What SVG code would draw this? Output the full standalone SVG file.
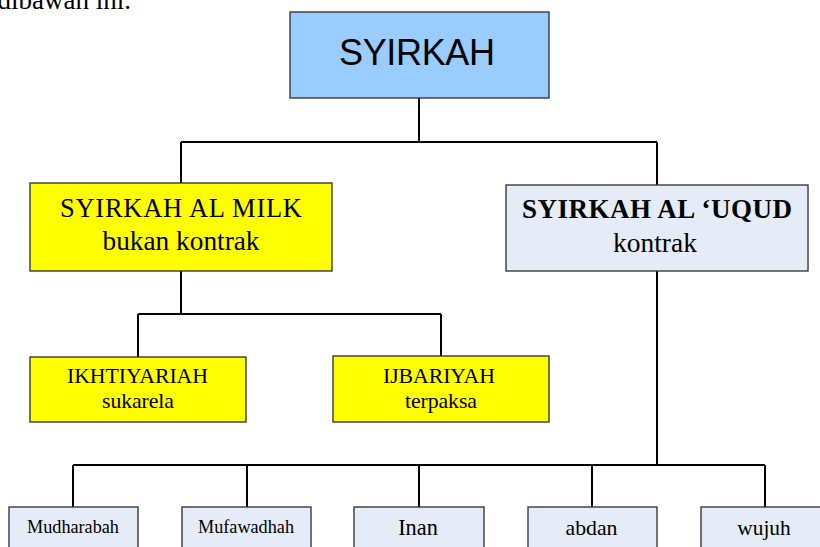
<svg xmlns="http://www.w3.org/2000/svg" width="820" height="547" viewBox="0 0 820 547">
  <style>
    .box { stroke: #3a3a3a; stroke-width: 1.4; }
    .root { fill: #99CCFF; }
    .yellow { fill: #FFFF00; }
    .pale { fill: #E6ECF7; }
    .serif { font-family: "Liberation Serif", "Times New Roman", serif; fill: #000; text-anchor: middle; }
    .sans { font-family: "Liberation Sans", Arial, sans-serif; fill: #000; text-anchor: middle; }
    .wire { fill: none; stroke: #000; stroke-width: 2; }
  </style>

  <!-- running text line above the chart -->
  <text x="131" y="9" font-family="Liberation Serif, serif" font-size="27" text-anchor="end" fill="#000">dibawah ini.</text>

  <g id="connectors">
    <path class="wire" d="M419,98 V142 M181,142 H657 M181,142 V183 M657,142 V185"/>
    <path class="wire" d="M181,271 V314 M138,314 H441 M138,314 V357 M441,314 V356"/>
    <path class="wire" d="M657,271 V465 M73,465 H765 M73,465 V507 M247,465 V507 M419,465 V507 M592,465 V507 M765,465 V507"/>
  </g>

  <g id="syirkah">
    <rect class="box root" x="290" y="12" width="259" height="86"/>
    <text class="sans" x="417" y="65" font-size="36" textLength="156">SYIRKAH</text>
  </g>

  <g id="al-milk">
    <rect class="box yellow" x="30" y="183" width="302" height="88"/>
    <text class="serif" x="181" y="217" font-size="26.5" textLength="242">SYIRKAH AL MILK</text>
    <text class="serif" x="181" y="250" font-size="27.3" textLength="157">bukan kontrak</text>
  </g>

  <g id="al-uqud">
    <rect class="box pale" x="506" y="185" width="302" height="86"/>
    <text class="serif" x="657" y="218" font-size="27" font-weight="bold" textLength="270">SYIRKAH AL ‘UQUD</text>
    <text class="serif" x="655" y="252" font-size="27.5" textLength="84">kontrak</text>
  </g>

  <g id="ikhtiyariah">
    <rect class="box yellow" x="30" y="357" width="216" height="65"/>
    <text class="serif" x="137.5" y="383" font-size="21.8" textLength="141">IKHTIYARIAH</text>
    <text class="serif" x="138" y="408" font-size="21.8" textLength="72">sukarela</text>
  </g>

  <g id="ijbariyah">
    <rect class="box yellow" x="333" y="356" width="216" height="66"/>
    <text class="serif" x="439" y="383" font-size="21.8" textLength="112">IJBARIYAH</text>
    <text class="serif" x="441" y="408" font-size="21.8" textLength="72">terpaksa</text>
  </g>

  <g id="mudharabah">
    <rect class="box pale" x="9" y="507" width="129" height="50"/>
    <text class="serif" x="73" y="533" font-size="18.2">Mudharabah</text>
  </g>

  <g id="mufawadhah">
    <rect class="box pale" x="182" y="507" width="129" height="50"/>
    <text class="serif" x="246" y="533" font-size="18.2">Mufawadhah</text>
  </g>

  <g id="inan">
    <rect class="box pale" x="354" y="507" width="130" height="50"/>
    <text class="serif" x="418" y="535" font-size="22.3">Inan</text>
  </g>

  <g id="abdan">
    <rect class="box pale" x="528" y="507" width="129" height="50"/>
    <text class="serif" x="591.5" y="535" font-size="21.8">abdan</text>
  </g>

  <g id="wujuh">
    <rect class="box pale" x="701" y="507" width="130" height="50"/>
    <text class="serif" x="764" y="535" font-size="21.4">wujuh</text>
  </g>
</svg>
